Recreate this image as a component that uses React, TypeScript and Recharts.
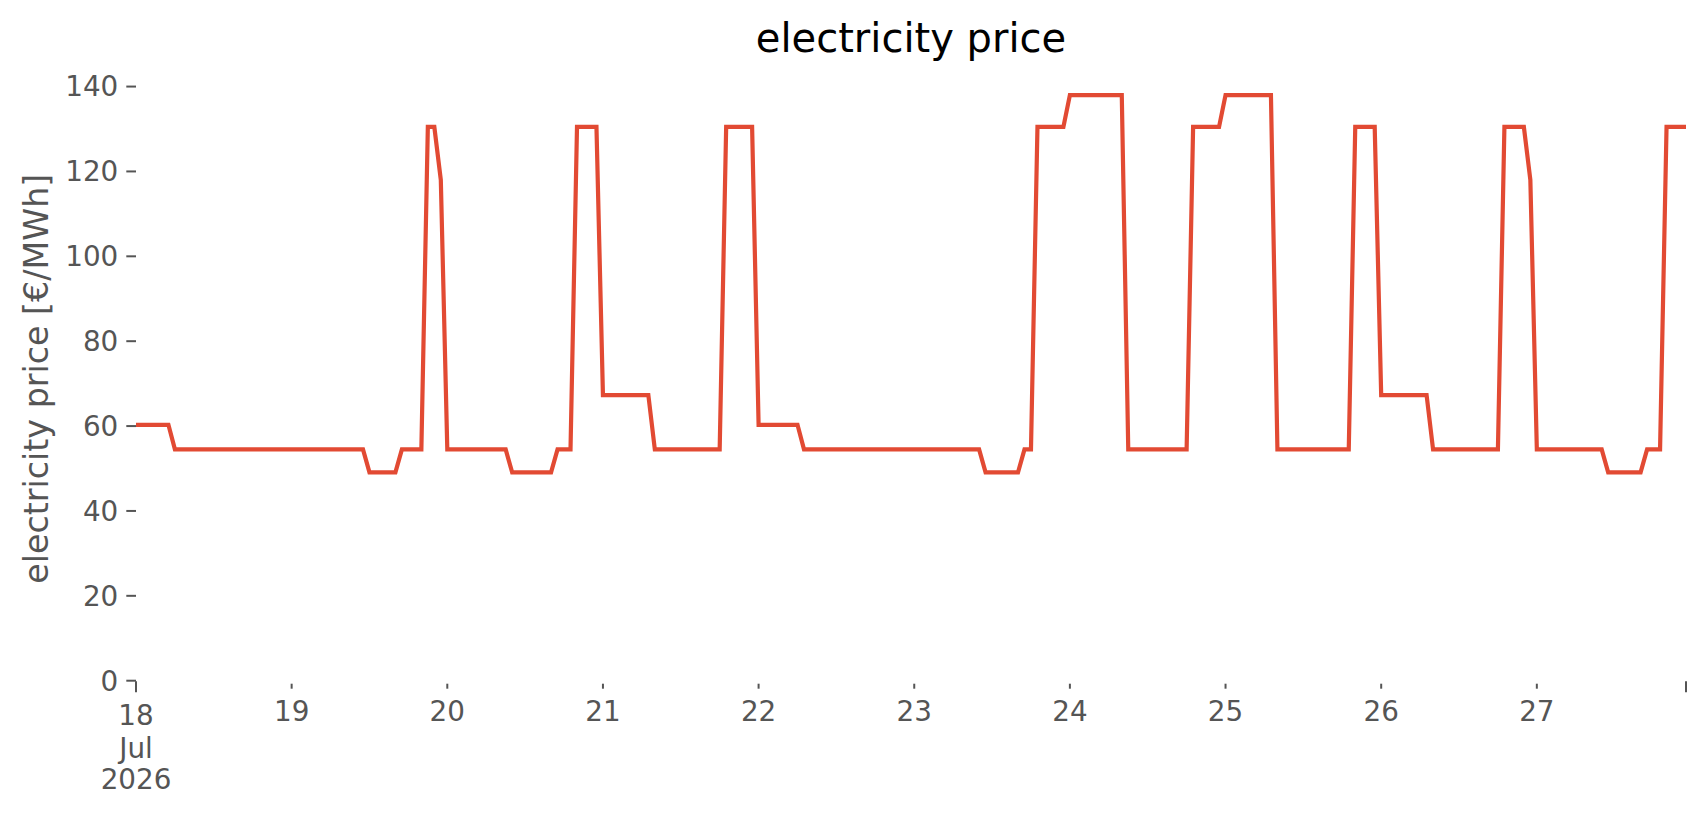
import { Line, LineChart, XAxis, YAxis } from 'recharts'

// hourly electricity price, one array per day (00:00 .. 23:00)
const jul18 = [
  60.3, 60.3, 60.3, 60.3, 60.3, 60.3,
  54.5, 54.5, 54.5, 54.5, 54.5, 54.5, 54.5, 54.5, 54.5, 54.5, 54.5, 54.5,
  54.5, 54.5, 54.5, 54.5, 54.5, 54.5
]
const jul19 = [
  54.5, 54.5, 54.5, 54.5, 54.5, 54.5, 54.5, 54.5, 54.5, 54.5, 54.5, 54.5,
  49.1, 49.1, 49.1, 49.1, 49.1,
  54.5, 54.5, 54.5, 54.5,
  130.5, 130.5,
  118.0
]
const jul20 = [
  54.5, 54.5, 54.5, 54.5, 54.5, 54.5, 54.5, 54.5, 54.5, 54.5,
  49.1, 49.1, 49.1, 49.1, 49.1, 49.1, 49.1,
  54.5, 54.5, 54.5,
  130.5, 130.5, 130.5, 130.5
]
const jul21 = [
  67.3, 67.3, 67.3, 67.3, 67.3, 67.3, 67.3, 67.3,
  54.5, 54.5, 54.5, 54.5, 54.5, 54.5, 54.5, 54.5, 54.5, 54.5, 54.5,
  130.5, 130.5, 130.5, 130.5, 130.5
]
const jul22 = [
  60.3, 60.3, 60.3, 60.3, 60.3, 60.3, 60.3,
  54.5, 54.5, 54.5, 54.5, 54.5, 54.5, 54.5, 54.5, 54.5, 54.5, 54.5, 54.5,
  54.5, 54.5, 54.5, 54.5, 54.5
]
const jul23 = [
  54.5, 54.5, 54.5, 54.5, 54.5, 54.5, 54.5, 54.5, 54.5, 54.5, 54.5,
  49.1, 49.1, 49.1, 49.1, 49.1, 49.1,
  54.5, 54.5,
  130.5, 130.5, 130.5, 130.5, 130.5
]
const jul24 = [
  138.0, 138.0, 138.0, 138.0, 138.0, 138.0, 138.0, 138.0, 138.0,
  54.5, 54.5, 54.5, 54.5, 54.5, 54.5, 54.5, 54.5, 54.5, 54.5,
  130.5, 130.5, 130.5, 130.5, 130.5
]
const jul25 = [
  138.0, 138.0, 138.0, 138.0, 138.0, 138.0, 138.0, 138.0,
  54.5, 54.5, 54.5, 54.5, 54.5, 54.5, 54.5, 54.5, 54.5, 54.5, 54.5, 54.5,
  130.5, 130.5, 130.5, 130.5
]
const jul26 = [
  67.3, 67.3, 67.3, 67.3, 67.3, 67.3, 67.3, 67.3,
  54.5, 54.5, 54.5, 54.5, 54.5, 54.5, 54.5, 54.5, 54.5, 54.5, 54.5,
  130.5, 130.5, 130.5, 130.5,
  118.0
]
const jul27 = [
  54.5, 54.5, 54.5, 54.5, 54.5, 54.5, 54.5, 54.5, 54.5, 54.5, 54.5,
  49.1, 49.1, 49.1, 49.1, 49.1, 49.1,
  54.5, 54.5, 54.5,
  130.5, 130.5, 130.5, 130.5
]

const days = [jul18, jul19, jul20, jul21, jul22, jul23, jul24, jul25, jul26, jul27]

// x ticks: hour index of each day start, plus the last hour
const tickHours = [0, 24, 48, 72, 96, 120, 144, 168, 192, 216, 239]
const tickLabels = ['18', '19', '20', '21', '22', '23', '24', '25', '26', '27', '']
const firstTickExtra = ['Jul', '2026']

const yTicks = [0, 20, 40, 60, 80, 100, 120, 140]

const data = days.flatMap((vals, d) =>
  vals.map((price, i) => ({ h: d * 24 + i, price }))
)

const W = 1706
const H = 815
const LEFT = 136
const RIGHT = 20
const TOP = 76.8
const XAXIS_H = 134.3
const FONT = '"DejaVu Sans", sans-serif'
const GREY = '#555555'

const DayTick = (props: any) => {
  const { x, y, payload } = props
  const i = tickHours.indexOf(payload.value)
  const major = i === 0 || i === tickHours.length - 1
  const label = tickLabels[i]
  return (
    <g>
      <line
        x1={x}
        x2={x}
        y1={y + (major ? 0.5 : 3)}
        y2={y + (major ? 11.5 : 8)}
        stroke={GREY}
        strokeWidth={2}
      />
      {label && (
        <text
          x={x}
          y={y + (major ? 44.3 : 40.3)}
          textAnchor='middle'
          fill={GREY}
          fontSize={27.8}
          fontFamily={FONT}
        >
          {label}
        </text>
      )}
      {i === 0 &&
        firstTickExtra.map((t, k) => (
          <text
            key={t}
            x={x}
            y={y + 77.3 + k * 31}
            textAnchor='middle'
            fill={GREY}
            fontSize={27.8}
            fontFamily={FONT}
          >
            {t}
          </text>
        ))}
    </g>
  )
}

const YLabel = (props: any) => {
  const { viewBox } = props
  const cy = viewBox.y + viewBox.height / 2
  return (
    <text
      transform={`translate(47.7, ${cy}) rotate(-90)`}
      textAnchor='middle'
      fill={GREY}
      fontSize={33.3}
      fontFamily={FONT}
    >
      electricity price [€/MWh]
    </text>
  )
}

export default function App() {
  return (
    <div
      style={{
        position: 'absolute',
        left: 0,
        top: 0,
        width: W,
        height: H,
        background: '#ffffff'
      }}
    >
      <LineChart
        width={W}
        height={H}
        data={data}
        margin={{ top: TOP, right: RIGHT, left: 0, bottom: 0 }}
      >
        <XAxis
          dataKey='h'
          type='number'
          domain={[0, 239]}
          ticks={tickHours}
          interval={0}
          height={XAXIS_H}
          axisLine={false}
          tickLine={false}
          tickSize={0}
          tickMargin={0}
          tick={<DayTick />}
        />
        <YAxis
          domain={[0, 142.3]}
          ticks={yTicks}
          interval={0}
          width={LEFT}
          axisLine={false}
          tickSize={9.7}
          tickMargin={8}
          tickLine={{ stroke: GREY, strokeWidth: 2 }}
          tick={{ fill: GREY, fontSize: 27.8, fontFamily: FONT }}
          label={<YLabel />}
        />
        <Line
          type='linear'
          dataKey='price'
          stroke='#E24A33'
          strokeWidth={4.2}
          dot={false}
          activeDot={false}
          isAnimationActive={false}
        />
      </LineChart>
      <svg
        width={W}
        height={H}
        style={{ position: 'absolute', left: 0, top: 0, pointerEvents: 'none' }}
      >
        <text
          x={LEFT + (W - LEFT - RIGHT) / 2}
          y={51.7}
          textAnchor='middle'
          fill='#000000'
          fontSize={40}
          fontFamily={FONT}
        >
          electricity price
        </text>
      </svg>
    </div>
  )
}
